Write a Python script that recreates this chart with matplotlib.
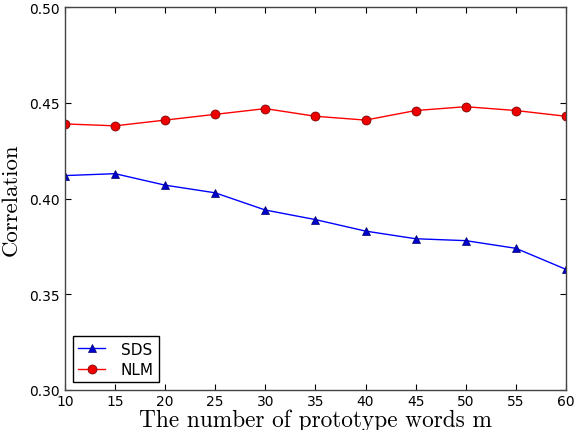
import matplotlib
matplotlib.use("Agg")
import matplotlib.pyplot as plt

m_values = [10, 15, 20, 25, 30, 35, 40, 45, 50, 55, 60]
sds = [0.412, 0.413, 0.407, 0.403, 0.394, 0.389, 0.383, 0.379, 0.378, 0.374, 0.363]
nlm = [0.439, 0.438, 0.441, 0.444, 0.447, 0.443, 0.441, 0.446, 0.448, 0.446, 0.443]

fig = plt.figure(figsize=(5.74, 4.31), dpi=100)
ax = fig.add_axes([0.113, 0.093, 0.873, 0.888])
ax.plot(m_values, sds, color='#0000ff', marker='^', markersize=6, linewidth=1,
        markerfacecolor='#0000cc', markeredgecolor='#000066', markeredgewidth=0.5, label='SDS')
ax.plot(m_values, nlm, color='#ff0000', marker='o', markersize=6.5, linewidth=1,
        markerfacecolor='#ee0000', markeredgecolor='#660000', markeredgewidth=0.5, label='NLM')
ax.set_xlim(10, 60)
ax.set_ylim(0.30, 0.50)
ax.set_xticks(range(10, 61, 5))
ax.set_yticks([0.30, 0.35, 0.40, 0.45, 0.50])
ax.set_yticklabels(['0.30', '0.35', '0.40', '0.45', '0.50'])
ax.tick_params(direction='in', top=True, right=True, length=4, labelsize=10)
ax.tick_params(axis='x', pad=3)
for s in ax.spines.values():
    s.set_color('#444444')
    s.set_linewidth(1.0)
ax.set_xlabel('The number of prototype words m', family=['cmr10'], fontsize=16.8, labelpad=0)
ax.set_ylabel('Correlation', family=['cmr10'], fontsize=16.5, labelpad=6)
leg = ax.legend(loc='lower left', fontsize=11, fancybox=False, framealpha=1,
                edgecolor='black', handlelength=1.8, handletextpad=1.0,
                labelspacing=0.35, borderpad=0.35, borderaxespad=0.5)
leg.get_frame().set_linewidth(1.0)
fig.savefig('out.png', dpi=100)
